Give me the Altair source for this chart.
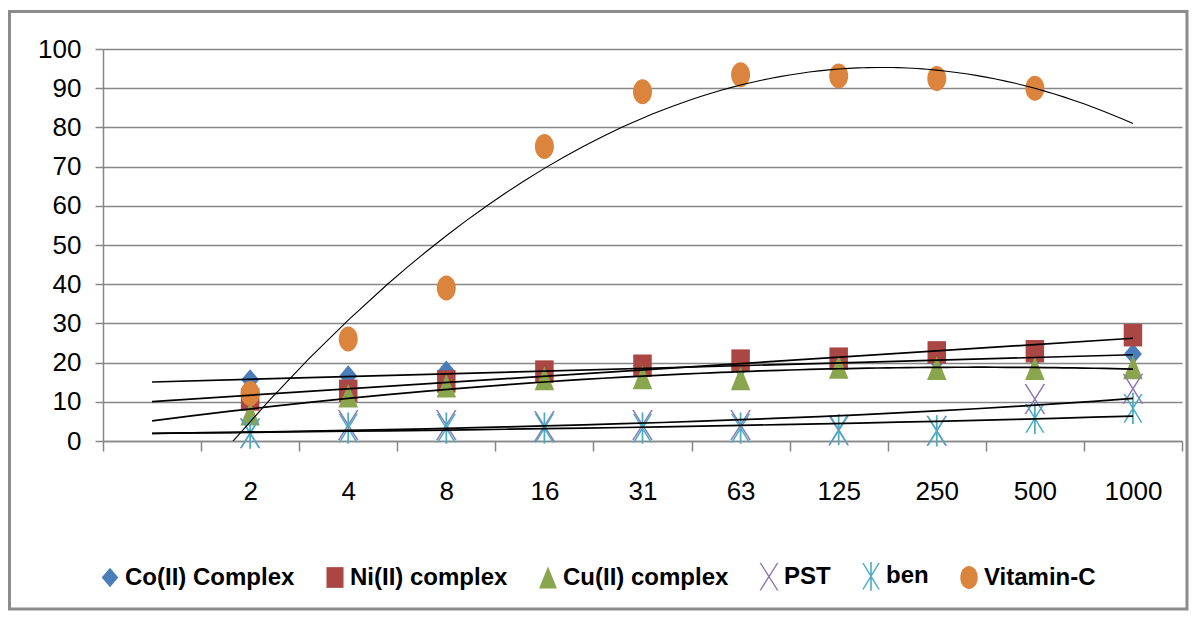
import altair as alt
import pandas as pd

# ---------------- data ----------------
categories = ["2", "4", "8", "16", "31", "63", "125", "250", "500", "1000"]
# category slots on the x axis (slot 1 is an empty leading category)
slots = [2, 3, 4, 5, 6, 7, 8, 9, 10, 11]
series_names = ["Co(II) Complex", "Ni(II) complex", "Cu(II) complex", "PST", "ben", "Vitamin-C"]

co_values = [15.6, 16.6, 17.8, 17.5, 18.2, 19.0, 19.8, 20.6, 21.4, 22.2]
ni_values = [10.6, 12.8, 15.2, 17.7, 19.2, 20.5, 21.0, 22.6, 22.9, 27.0]
cu_values = [7.0, 11.6, 14.1, 16.0, 16.2, 16.0, 18.9, 18.6, 18.6, 18.8]
pst_values = [2.0, 4.1, 4.1, 3.8, 4.1, 4.1, 2.7, 2.6, 10.7, 13.3]
ben_values = [2.0, 3.3, 3.3, 3.3, 3.3, 3.3, 2.9, 2.6, 5.8, 8.3]
vitc_values = [12.1, 26.0, 39.0, 75.1, 89.1, 93.4, 93.1, 92.5, 90.0]

colors = ["#4A7EBB", "#AA4643", "#89A54E", "#8F79B0", "#4BACC6", "#DB843D"]
y_ticks = [0, 10, 20, 30, 40, 50, 60, 70, 80, 90, 100]

# marker outlines (unit box -1..1)
shape_paths = [
    "M0,-0.85L0.72,0L0,0.85L-0.72,0Z",
    "M-0.74,-0.9H0.74V0.9H-0.74Z",
    "M0,-0.95L0.78,0.95L-0.78,0.95Z",
    "M-0.83,-1.2L-0.69,-1.2L0.83,1.2L0.69,1.2Z M0.69,-1.2L0.83,-1.2L-0.69,1.2L-0.83,1.2Z",
    "M-0.77,-1.15L-0.63,-1.15L0.77,1.15L0.63,1.15Z M0.63,-1.15L0.77,-1.15L-0.63,1.15L-0.77,1.15Z M-0.07,-1.25L0.07,-1.25L0.07,1.25L-0.07,1.25Z",
    "M0,-1A0.76,1,0,1,1,0,1A0.76,1,0,1,1,0,-1Z",
]

rows = []
for name, vals in zip(series_names, [co_values, ni_values, cu_values, pst_values, ben_values, vitc_values]):
    for s, v in zip(slots, vals):
        rows.append({"series": name, "xi": s, "value": v})
df = pd.DataFrame(rows)

FONT = "Liberation Sans, Arial, sans-serif"
GRAY = "#878787"
W, H = 1079, 392

labels_all = [""] + categories + [""]
label_expr = "[" + ",".join("'%s'" % c for c in labels_all) + "][floor(datum.value)]"

x_axis = alt.Axis(
    values=[0.5 + i for i in range(12)], labelExpr=label_expr, labelOffset=W / 22,
    tickSize=10, tickColor=GRAY, tickWidth=1.5, domainColor=GRAY, domainWidth=1.5,
    grid=False, labelFont=FONT, labelFontSize=26, labelColor="black", labelPadding=27,
    title=None, labelAngle=0, labelFlush=False, labelOverlap=False,
)
y_axis = alt.Axis(
    values=y_ticks, grid=True, gridColor=GRAY, gridWidth=1.5, tickSize=8, tickColor=GRAY,
    tickWidth=1.5, domainColor=GRAY, domainWidth=1.5, labelFont=FONT, labelFontSize=26,
    labelColor="black", labelPadding=14, title=None,
)
x_scale = alt.Scale(domain=[0.5, 11.5], nice=False, zero=False)
y_scale = alt.Scale(domain=[0, 100], nice=False, zero=False)


def X():
    return alt.X("xi:Q", scale=x_scale, axis=x_axis)


def Y():
    return alt.Y("value:Q", scale=y_scale, axis=y_axis)


legend = alt.Legend(
    orient="none", legendX=-5, legendY=515, direction="horizontal", columns=6,
    title=None, labelFont=FONT, labelFontSize=24, labelFontWeight="bold", labelColor="black",
    labelLimit=400, symbolSize=530, symbolStrokeWidth=0, columnPadding=28, labelOffset=3,
    padding=0,
)

base = alt.Chart(df)

points = base.mark_point(filled=True, opacity=1, size=625, strokeWidth=0).encode(
    x=X(), y=Y(),
    color=alt.Color("series:N", scale=alt.Scale(domain=series_names, range=colors), legend=legend),
    shape=alt.Shape("series:N", scale=alt.Scale(domain=series_names, range=shape_paths), legend=legend),
)


def trend(names, width=1.7, **reg):
    return base.transform_filter(
        alt.FieldOneOfPredicate(field="series", oneOf=names)
    ).transform_regression("xi", "value", groupby=["series"], extent=[1, 11], **reg).mark_line(
        color="black", strokeWidth=width, clip=True
    ).encode(x=X(), y=Y(), detail="series:N")


lin = trend(["Co(II) Complex", "Ni(II) complex"], method="linear")
quad = trend(["Cu(II) complex"], method="poly", order=2)
low = trend(["PST", "ben"], method="exp")
vit = trend(["Vitamin-C"], width=1.1, method="poly", order=2)

frame = alt.Chart(pd.DataFrame({"k": [0]})).mark_rect(
    fillOpacity=0, stroke="#8c8c8c", strokeWidth=3
).encode(x=alt.value(-93.5), x2=alt.value(1084), y=alt.value(-37.5), y2=alt.value(560))

chart = alt.layer(points, lin, quad, low, vit, frame).properties(
    width=W, height=H,
    padding={"left": 95, "top": 41, "right": 7, "bottom": 170},
    autosize=alt.AutoSizeParams(type="none"),
).configure_view(strokeWidth=0)

chart.save("out.html", embed_options={"renderer": "svg", "actions": False})
